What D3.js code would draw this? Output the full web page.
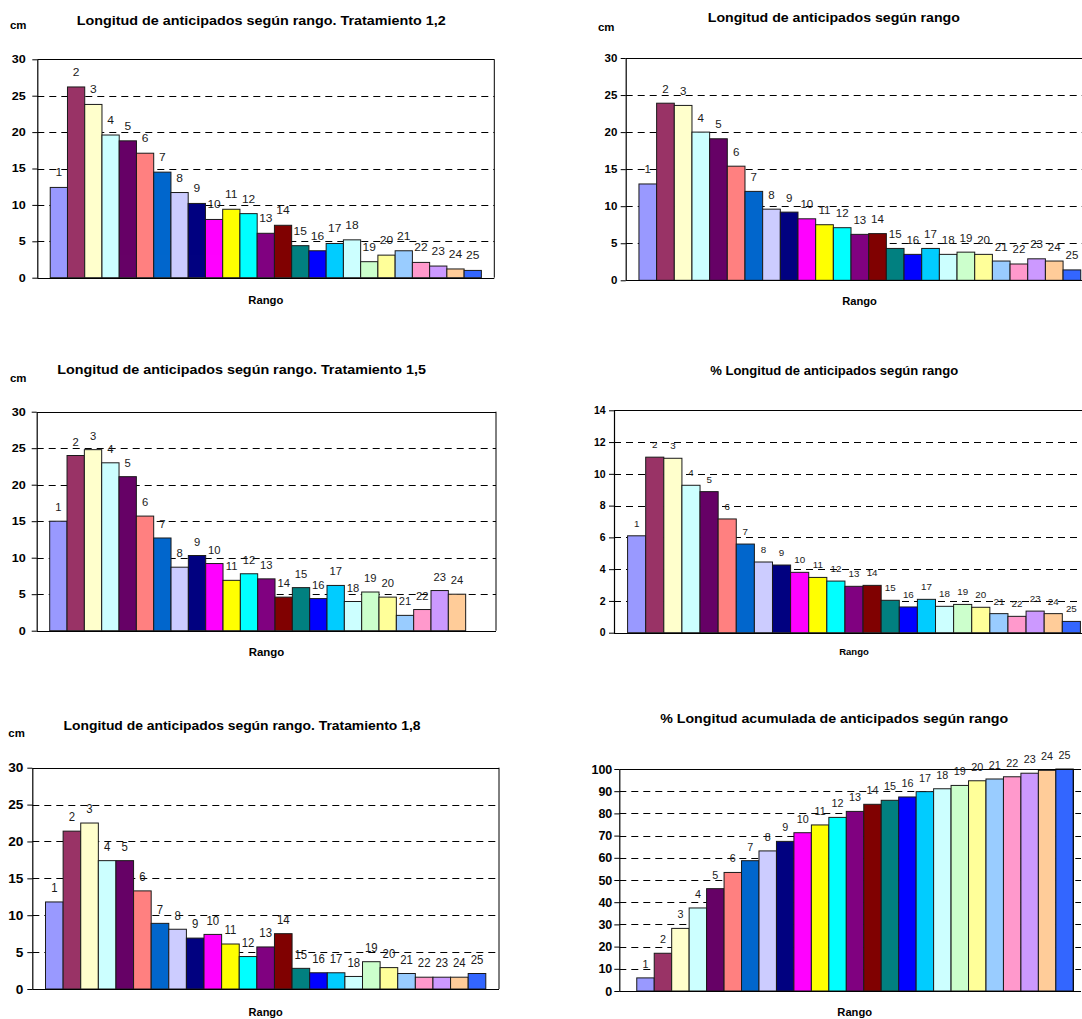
<!DOCTYPE html>
<html>
<head>
<meta charset="utf-8">
<script src="https://cdn.jsdelivr.net/npm/d3@7/dist/d3.min.js"></script>
<style>
  html, body { margin: 0; padding: 0; background: #fff; }
  svg { display: block; opacity: 0.999; will-change: opacity; }
  text { font-family: "Liberation Sans", Arial, sans-serif; }
</style>
</head>
<body>
<svg id="chart" width="1082" height="1019"></svg>
<script>
// ---------- DATA ----------
const rangos = ["1","2","3","4","5","6","7","8","9","10","11","12","13","14","15","16","17","18","19","20","21","22","23","24","25"];

const tratamiento12 = [12.4, 26.2, 23.8, 19.6, 18.8, 17.1, 14.5, 11.7, 10.2, 8.0, 9.4, 8.8, 6.1, 7.2, 4.4, 3.7, 4.7, 5.2, 2.2, 3.1, 3.7, 2.1, 1.6, 1.2, 1.0];
const longitudTotal = [13.0, 23.9, 23.6, 20.0, 19.1, 15.4, 12.0, 9.6, 9.2, 8.3, 7.5, 7.1, 6.2, 6.3, 4.3, 3.5, 4.3, 3.5, 3.8, 3.5, 2.6, 2.2, 2.9, 2.6, 1.4];
const tratamiento15 = [15.0, 24.0, 24.8, 23.0, 21.1, 15.7, 12.7, 8.7, 10.3, 9.2, 6.9, 7.8, 7.1, 4.6, 5.9, 4.4, 6.2, 4.0, 5.3, 4.6, 2.1, 2.9, 5.5, 5.0, null];
const porcentaje = [6.1, 11.05, 10.98, 9.28, 8.88, 7.16, 5.58, 4.45, 4.26, 3.8, 3.48, 3.25, 2.92, 2.98, 2.04, 1.62, 2.1, 1.66, 1.78, 1.6, 1.2, 1.03, 1.36, 1.2, 0.71];
const tratamiento18 = [11.8, 21.4, 22.5, 17.4, 17.4, 13.3, 8.9, 8.1, 6.9, 7.4, 6.1, 4.4, 5.7, 7.5, 2.8, 2.2, 2.2, 1.7, 3.7, 2.9, 2.1, 1.6, 1.6, 1.6, 2.1];
const acumulado = [5.9, 17.0, 28.2, 37.4, 46.1, 53.4, 58.7, 63.1, 67.4, 71.3, 74.8, 78.2, 80.9, 84.1, 85.9, 87.4, 89.8, 91.1, 92.6, 94.7, 95.5, 96.5, 98.1, 99.4, 100];

const ticksCm = [0, 5, 10, 15, 20, 25, 30];
const ticksPct = [0, 2, 4, 6, 8, 10, 12, 14];
const ticksAcum = [0, 10, 20, 30, 40, 50, 60, 70, 80, 90, 100];

const seriesColors = ["#9999FF","#993366","#FFFFCC","#CCFFFF","#660066","#FF8080","#0066CC","#CCCCFF","#000080","#FF00FF","#FFFF00","#00FFFF","#800080","#800000","#008080","#0000FF","#00CCFF","#CCFFFF","#CCFFCC","#FFFF99","#99CCFF","#FF99CC","#CC99FF","#FFCC99","#3366FF"];

const titulos = [
  "Longitud de anticipados según rango. Tratamiento 1,2",
  "Longitud de anticipados según rango",
  "Longitud de anticipados según rango. Tratamiento 1,5",
  "% Longitud de anticipados según rango",
  "Longitud de anticipados según rango. Tratamiento 1,8",
  "% Longitud acumulada de anticipados según rango"
];
const unidad = "cm";
const ejeX = "Rango";

// ---------- LAYOUT ----------
const panels = [
  { values: tratamiento12, ticks: ticksCm, title: titulos[0], unit: true,
    L: 37.3, R: 494.3, T: 59.3, B: 277.7, outer: 0.75, rightBorder: true,
    tx: 261.3, ty: 25, tlen: 369, cmx: 10, cmy: 29.3, rx: 265.8, ry: 304, rlen: 35, rsize: 10.5,
    tickFont: 10.5, tickSx: 1.2, tickPad: 6.6, labFont: 10, labSx: 1.2, labGap: 11 },
  { values: longitudTotal, ticks: ticksCm, title: titulos[1], unit: true,
    L: 625.7, R: 1094, T: 58, B: 280.3, outer: 0.75, rightBorder: false,
    tx: 833.8, ty: 21.7, tlen: 252, cmx: 598, cmy: 31, rx: 859.5, ry: 305, rlen: 34.7, rsize: 10.5,
    tickFont: 11.5, tickSx: 1.0, tickPad: 3.4, labFont: 11, labSx: 1.05, labGap: 10.5 },
  { values: tratamiento15, ticks: ticksCm, title: titulos[2], unit: true,
    L: 36.7, R: 496, T: 411.7, B: 630.7, outer: 0.75, rightBorder: true,
    tx: 241.7, ty: 374, tlen: 368.7, cmx: 10, cmy: 382, rx: 266.5, ry: 656, rlen: 35.5, rsize: 10.5,
    tickFont: 10.7, tickSx: 1.18, tickPad: 6, labFont: 10.2, labSx: 1.1, labGap: 10 },
  { values: porcentaje, ticks: ticksPct, title: titulos[3], unit: false,
    L: 614, R: 1094, T: 410.3, B: 632.7, outer: 0.75, rightBorder: false,
    tx: 834.2, ty: 375, tlen: 248, cmx: 0, cmy: 0, rx: 854, ry: 655, rlen: 29.7, rsize: 9,
    tickFont: 10, tickSx: 1.05, tickPad: 3.3, labFont: 9.8, labSx: 1.0, labGap: 9 },
  { values: tratamiento18, ticks: ticksCm, title: titulos[4], unit: true,
    L: 32.3, R: 499, T: 767.7, B: 989, outer: 0.75, rightBorder: true,
    tx: 242, ty: 730, tlen: 357, cmx: 8.3, cmy: 736.7, rx: 265.7, ry: 1015.7, rlen: 34.3, rsize: 10.5,
    tickFont: 13, tickSx: 1.05, tickPad: 4, labFont: 12, labSx: 0.95, labGap: 9.7 },
  { values: acumulado, ticks: ticksAcum, title: titulos[5], unit: false,
    L: 619.3, R: 1073.3, T: 769, B: 991, outer: null, rightBorder: true, gridEnd: 1081,
    tx: 834.2, ty: 723.3, tlen: 348, cmx: 0, cmy: 0, rx: 854.7, ry: 1016, rlen: 34.7, rsize: 10.5,
    tickFont: 12.5, tickSx: 1.0, tickPad: 2, labFont: 11, labSx: 0.98, labGap: 10 }
];

const svg = d3.select("#chart");
svg.append("rect").attr("width", 1082).attr("height", 1019).attr("fill", "#fff");

panels.forEach(p => {
  const g = svg.append("g");
  const yMax = p.ticks[p.ticks.length - 1];
  const y = d3.scaleLinear().domain([0, yMax]).range([p.B, p.T]);

  let x;
  if (p.outer !== null) {
    x = d3.scaleBand().domain(rangos).range([p.L, p.R]).paddingInner(0).paddingOuter(p.outer);
  } else {
    const w = (p.R - p.L) / 26;
    x = d3.scaleBand().domain(rangos).range([p.L + w, p.R]).paddingInner(0).paddingOuter(0);
  }
  const gridEnd = p.gridEnd || p.R;

  // gridlines (dashed)
  g.append("g").selectAll("line")
    .data(p.ticks.filter(t => t > 0 && t < yMax))
    .join("line")
    .attr("x1", p.L).attr("x2", gridEnd)
    .attr("y1", d => Math.round(y(d)) + 0.5).attr("y2", d => Math.round(y(d)) + 0.5)
    .attr("stroke", "#000").attr("stroke-width", 1).attr("stroke-dasharray", "7,5");

  // bars
  const data = rangos.map((c, i) => ({ c, v: p.values[i], col: seriesColors[i] })).filter(d => d.v !== null);
  g.append("g").selectAll("rect")
    .data(data)
    .join("rect")
    .attr("x", d => x(d.c))
    .attr("y", d => y(d.v))
    .attr("width", x.bandwidth())
    .attr("height", d => y(0) - y(d.v))
    .attr("fill", d => d.col)
    .attr("stroke", "#1a1a1a").attr("stroke-width", 1);

  // top border & right border
  g.append("line").attr("x1", p.L).attr("x2", gridEnd)
    .attr("y1", Math.round(y(yMax)) + 0.5).attr("y2", Math.round(y(yMax)) + 0.5)
    .attr("stroke", "#000").attr("stroke-width", 1);
  if (p.rightBorder) {
    g.append("line").attr("x1", p.R).attr("x2", p.R)
      .attr("y1", y(yMax)).attr("y2", y(0))
      .attr("stroke", "#000").attr("stroke-width", 1);
  }
  // x axis baseline
  g.append("line").attr("x1", p.L).attr("x2", gridEnd)
    .attr("y1", Math.round(y(0)) + 0.5).attr("y2", Math.round(y(0)) + 0.5)
    .attr("stroke", "#000").attr("stroke-width", 1.2);

  // y axis
  const ax = g.append("g").attr("transform", `translate(${p.L},0)`)
    .call(d3.axisLeft(y).tickValues(p.ticks).tickSize(5).tickSizeOuter(0).tickPadding(p.tickPad));
  ax.select(".domain").attr("stroke", "#000").attr("stroke-width", 1.2);
  ax.selectAll(".tick line").attr("stroke", "#000");
  ax.selectAll(".tick text")
    .attr("font-family", "Liberation Sans, Arial, sans-serif")
    .attr("font-weight", "bold")
    .attr("font-size", p.tickFont)
    .attr("fill", "#000")
    .each(function() {
      const t = d3.select(this);
      const xx = +t.attr("x");
      t.attr("x", 0).attr("transform", `translate(${xx},0) scale(${p.tickSx},1)`);
    });

  // data labels
  g.append("g").selectAll("text")
    .data(data)
    .join("text")
    .attr("transform", d => `translate(${x(d.c) + x.bandwidth() / 2},${Math.round(y(d.v) - p.labGap)}) scale(${p.labSx},1)`)
    .attr("text-anchor", "middle")
    .attr("font-size", p.labFont)
    .attr("fill", "#1a1a1a")
    .text(d => d.c);

  // title
  g.append("text")
    .attr("x", p.tx).attr("y", p.ty)
    .attr("text-anchor", "middle")
    .attr("font-weight", "bold").attr("font-size", 12.5)
    .attr("fill", "#000")
    .attr("textLength", p.tlen).attr("lengthAdjust", "spacingAndGlyphs")
    .text(p.title);

  // unit
  if (p.unit) {
    g.append("text")
      .attr("x", p.cmx).attr("y", p.cmy)
      .attr("font-weight", "bold").attr("font-size", 10)
      .attr("fill", "#000")
      .attr("textLength", 16.5).attr("lengthAdjust", "spacingAndGlyphs")
      .text(unidad);
  }

  // x axis title
  g.append("text")
    .attr("x", p.rx).attr("y", p.ry)
    .attr("text-anchor", "middle")
    .attr("font-weight", "bold").attr("font-size", p.rsize)
    .attr("fill", "#000")
    .attr("textLength", p.rlen).attr("lengthAdjust", "spacingAndGlyphs")
    .text(ejeX);
});
</script>
</body>
</html>
